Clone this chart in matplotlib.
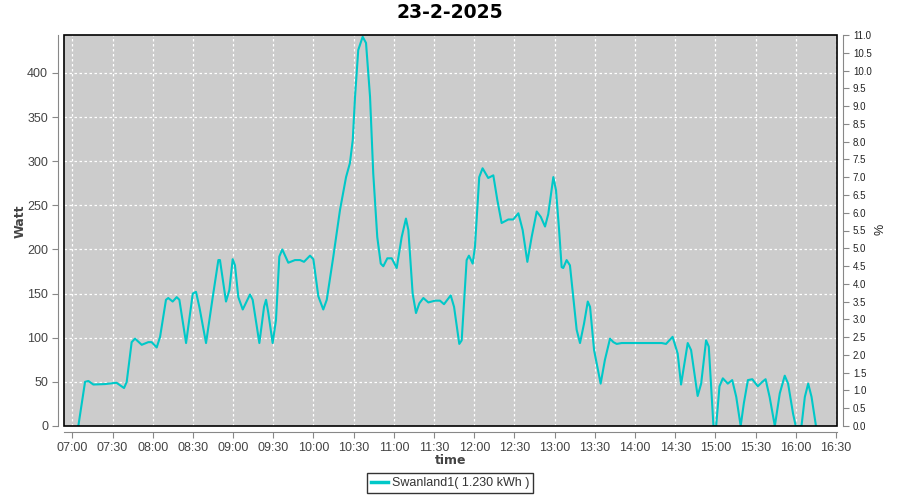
import numpy as np
import matplotlib
matplotlib.use('Agg')
import matplotlib.pyplot as plt
from matplotlib.patches import Rectangle

plt.rcParams['font.family'] = ['Liberation Sans', 'DejaVu Sans']

title = '23-2-2025'
series_name = 'Swanland1( 1.230 kWh )'

# minutes after 07:00 and power in watt
minutes = [4.5, 9.5, 12, 15.7, 24.4, 33, 38.6, 40.6, 44.3, 46.8, 51.8, 56.7, 59.2, 63, 65.5,
           69.9, 71.6, 74.9, 77.9, 79.9, 84.9, 89.9, 92.3, 94.8, 99.8, 104.8, 109, 110.2,
           114.7, 117.2, 119.7, 121.4, 123.9, 127.2, 130.1, 132.6, 134.6, 139.6, 143.1,
           144.6, 146.3, 149.5, 152, 154.5, 156.7, 161.2, 166.2, 170, 172.9, 177.4, 179.9,
           183.6, 187.3, 189.9, 194.8, 199.8, 204.3, 207.2, 209.3, 211, 213.4, 216.7, 219.2,
           222.2, 224.6, 227.6, 230.2, 232.1, 235.1, 238.4, 242.1, 245.8, 249, 250.8, 254,
           256.5, 259, 262, 265.7, 270.7, 274.4, 277.4, 282.4, 284.9, 288.8, 290.6, 294.3,
           296, 298.8, 300.5, 303.7, 306.2, 310.4, 314.2, 317.2, 320.4, 325.4, 329.1, 332.9,
           336.1, 339.6, 342.8, 346.6, 349.6, 352.8, 355.2, 359, 361, 363.3, 365.2, 366.4,
           368.9, 371.4, 373.9, 376.4, 378.9, 381.9, 384.7, 386.4, 389.4, 394.3, 397.5,
           401.3, 403.8, 406.3, 410, 439.9, 443.1, 448, 451.8, 454.3, 459.3, 461.8, 466.7,
           469.3, 473, 475, 478.5, 480.5, 483, 485.5, 489.2, 492.5, 495.5, 498.8, 501.2,
           504.2, 507.5, 511.6, 514.9, 517.4, 520.4, 524.3, 528, 531.7, 534.2, 537.9, 539.9,
           544.2, 546.7, 549.2, 551.7, 555]
watt = [0, 50, 51, 47, 47.5, 49, 43, 50, 95, 99, 92, 95, 95, 89, 101,
        143, 145, 141, 146, 143, 94, 150, 152, 135, 94, 146, 188, 188,
        141, 154, 189, 182, 146, 132, 141, 149, 143, 94, 135,
        143, 128, 94, 120, 192, 200, 185, 188, 188, 186, 193, 189,
        147, 132, 143, 192, 245, 282, 298, 324, 373, 426, 441, 434,
        373, 286, 214, 184, 181, 190, 190, 179, 214, 235, 222, 150,
        128, 139, 145, 140, 142, 142, 138, 148, 135, 93, 97, 188,
        193, 184, 203, 282, 292, 281, 284, 256, 230, 234, 234, 241,
        222, 186, 214, 243, 237, 226, 240, 282, 267, 222, 180, 179,
        188, 182, 146, 109, 94, 116, 141, 135, 86, 48, 75,
        99, 95, 93, 94, 94, 93, 101, 82, 47, 94, 86, 34,
        48, 97, 90, 0, 0, 45, 54, 48, 52, 33, 0, 26,
        52, 53, 45, 50, 53, 33, 0, 37, 57, 48, 14, 0,
        0, 33, 48, 33, 0]

tick_labels = ['07:00', '07:30', '08:00', '08:30', '09:00', '09:30', '10:00', '10:30',
               '11:00', '11:30', '12:00', '12:30', '13:00', '13:30', '14:00', '14:30',
               '15:00', '15:30', '16:00', '16:30']
tick_pos = [30 * i for i in range(len(tick_labels))]

fig = plt.figure(figsize=(9, 5), dpi=100)
ax = fig.add_axes([64 / 900, 1 - 426 / 500, (837 - 64) / 900, (426 - 35) / 500])
ax.set_facecolor('#cccccc')

ax.plot(minutes, watt, color='#00c8c8', lw=1.5, zorder=3)

ax.set_xlim(-6.2, 570.7)
ax.set_ylim(0, 443)
ax.set_xticks(tick_pos)
ax.set_xticklabels(tick_labels)
ax.set_yticks(range(0, 401, 50))
ax.grid(True, color='white', ls=(0, (2, 2)), lw=0.9)

for s in ['top', 'right']:
    ax.spines[s].set_visible(False)
for s in ['left', 'bottom']:
    ax.spines[s].set_position(('outward', 4))
    ax.spines[s].set_color('#888888')
ax.tick_params(colors='#888888', labelcolor='#444444', labelsize=9, length=4, width=0.8)

# black frame round the plot area
ax.add_patch(Rectangle((0, 0), 1, 1, transform=ax.transAxes, fill=False,
                       ec='black', lw=1.2, clip_on=False, zorder=5))

ax2 = ax.twinx()
ax2.set_ylim(0, 11)
ax2.set_yticks(np.arange(0, 11.01, 0.5))
ax2.set_yticklabels(['%.1f' % v for v in np.arange(0, 11.01, 0.5)])
for s in ['top', 'left', 'bottom']:
    ax2.spines[s].set_visible(False)
ax2.spines['right'].set_position(('outward', 4))
ax2.spines['right'].set_color('#888888')
ax2.tick_params(colors='#888888', labelcolor='#222222', labelsize=7, length=4, width=0.8)

fig.text(880 / 900, 1 - 229 / 500, '%', rotation=90, ha='center', va='center',
         color='#222222', fontsize=9)
fig.text(450.5 / 900, 1 - 460 / 500, 'time', ha='center', va='center',
         fontsize=9, fontweight='bold', color='#444444', family='DejaVu Sans')
fig.text(20.5 / 900, 1 - 221 / 500, 'Watt', rotation=90, ha='center', va='center',
         fontsize=9, fontweight='bold', color='#444444', family='DejaVu Sans')
fig.text(0.5, 1 - 12.7 / 500, title, ha='center', va='center',
         fontsize=13.5, fontweight='bold', color='black', family='DejaVu Sans')

leg = fig.legend(loc='lower center', bbox_to_anchor=(0.5, 0.002), fontsize=9,
                 fancybox=False, edgecolor='black', handlelength=1.4, borderpad=0.3,
                 handletextpad=0.3, labels=[series_name], handles=ax.lines)
leg.get_frame().set_linewidth(1.0)
leg.legend_handles[0].set_linewidth(2.5)
for t in leg.get_texts():
    t.set_color('#333333')

fig.savefig('out.png', dpi=100)
